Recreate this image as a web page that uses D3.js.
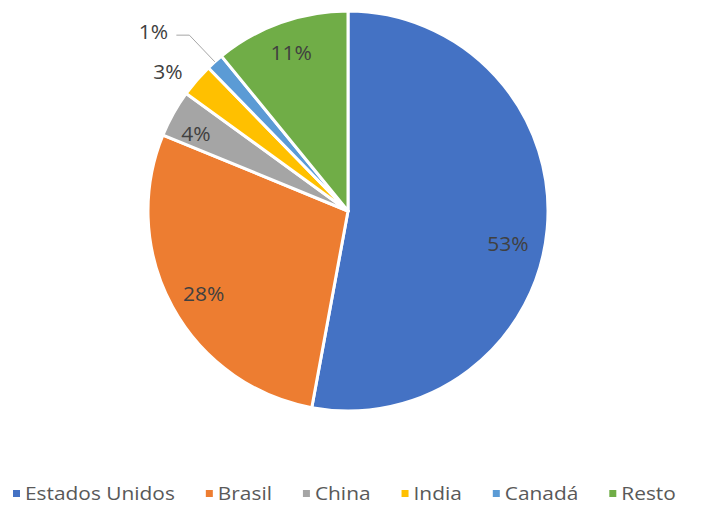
<!DOCTYPE html>
<html><head><meta charset="utf-8">
<script src="https://cdn.jsdelivr.net/npm/d3@7"></script>
<style>body{margin:0;background:#fff;}svg{display:block;font-family:"Open Sans","Noto Sans",sans-serif;}</style>
</head><body>
<svg id="c" width="726" height="506"></svg>
<script>
const categories = ["Estados Unidos","Brasil","China","India","Canadá","Resto"];
const values = [52.9, 28.3, 3.8, 2.7, 1.4, 10.9];
const labels = ["53%","28%","4%","3%","1%","11%"];
const colors = ["#4472C4","#ED7D31","#A5A5A5","#FFC000","#5B9BD5","#70AD47"];

const svg = d3.select("#c");
const cx = 348, cy = 211, R = 200;
const g = svg.append("g").attr("transform",`translate(${cx},${cy})`);
const pie = d3.pie().sort(null).value(d=>d.v);
const data = pie(categories.map((c,i)=>({c, v:values[i], l:labels[i], col:colors[i]})));
const arc = d3.arc().innerRadius(0).outerRadius(R);
g.selectAll("path").data(data).join("path")
  .attr("d",arc).attr("fill",d=>d.data.col)
  .attr("stroke","#fff").attr("stroke-width",3).attr("stroke-linejoin","round");

// label placement: [radius, angle nudge (deg)]
const place = [[163,6],[166,-1],[171,-2],[228,-3],[265,-5.5],[169,0]];
function pt(r, a){ return [r*Math.sin(a), -r*Math.cos(a)]; }
data.forEach((d,i)=>{
  const mid = (d.startAngle+d.endAngle)/2 + place[i][1]*Math.PI/180;
  let [x,y] = pt(place[i][0], mid);
  if (i===4){
    const e = pt(R, (d.startAngle+d.endAngle)/2);
    const tx = x + 23, ty = y + 4;
    g.append("path").attr("d",`M${e[0]},${e[1]} L${tx+13},${ty} L${tx},${ty}`)
      .attr("fill","none").attr("stroke","#a6a6a6").attr("stroke-width",1);
  }
  g.append("text").attr("transform",`translate(${x},${y}) scale(1.05,1)`).attr("text-anchor","middle")
    .attr("dominant-baseline","central").attr("font-size",20).attr("fill","#404040")
    .text(d.data.l);
});

// legend
const stretch = 1.16;
const lg = svg.append("g").attr("transform","translate(0,493)");
let x = 13;
categories.forEach((c,i)=>{
  lg.append("rect").attr("x",x).attr("y",-3).attr("width",7).attr("height",7).attr("fill",colors[i]);
  const t = lg.append("text").attr("transform",`translate(${x+12},0) scale(${stretch},1)`)
    .attr("dominant-baseline","central")
    .attr("font-size",18).attr("fill","#595959").text(c);
  x += 12 + t.node().getComputedTextLength()*stretch + 31;
});
</script>
</body></html>
